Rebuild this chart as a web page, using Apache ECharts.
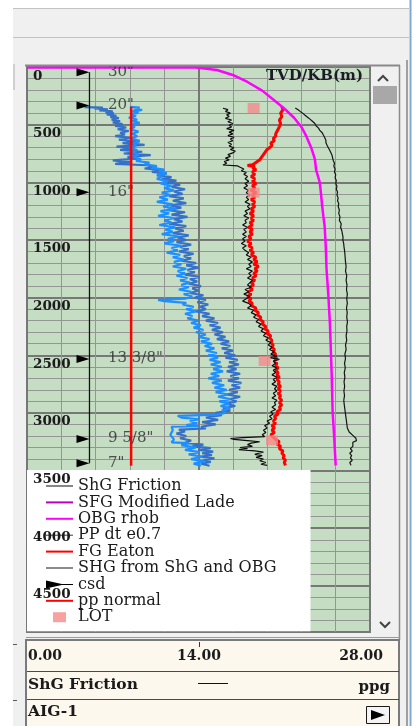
<!DOCTYPE html>
<html>
<head>
<meta charset="utf-8">
<title>AIG-1 pressure track</title>
<script src="https://cdn.jsdelivr.net/npm/echarts@6/dist/echarts.min.js"></script>
<style>
  html, body { margin: 0; padding: 0; background: #ffffff; }
  #chart { width: 414px; height: 726px; }
</style>
</head>
<body>
<div id="chart"></div>
<script>
// Well AIG-1: pressure gradients (ppg) against true vertical depth below KB (m)

const depthTicks = [0, 500, 1000, 1500, 2000, 2500, 3000, 3500, 4000, 4500];
const headerTicks = [0, 14, 28];

// casing shoes
const casingSizes = ['30"', '20"', '16"', '13 3/8"', '9 5/8"', '7"'];
const casingDepths = [46, 333, 1087, 2532, 3227, 3437];
const casingPpg = 5.1;

// [ppg, depth m]
const ppNormal = [[8.5, 344], [8.5, 3458]];

const lot = [[18.5, 355], [18.5, 1090], [19.4, 2550], [20.0, 3238]];

const ppDtRaw = [
  [4.7,348],[6.2,352],[5.5,360],[6.6,368],[5.9,376],[7.0,384],[6.4,392],[7.1,402],[6.5,412],[7.3,422],
  [6.8,432],[7.5,444],[6.9,456],[7.6,468],[7.0,480],[7.8,495],[7.2,510],[8.1,525],[7.4,540],[8.3,555],
  [7.6,570],[8.0,585],[7.2,600],[8.4,615],[7.5,630],[9.2,645],[7.8,660],[9.6,675],[7.3,690],[8.8,705],
  [7.6,720],[9.4,735],[7.9,750],[10.1,765],[8.2,780],[9.0,795],[7.0,810],[8.4,825],[7.2,840],[9.8,852],
  [10.4,865],[9.6,880],[10.9,895],[10.2,910],[11.4,925],[10.6,940],[11.8,955],[11.0,970],[12.2,985],[11.4,1000],
  [12.5,1020],[11.8,1040],[12.9,1060],[12.0,1080],[12.7,1100],[11.6,1120],[12.8,1140],[11.9,1160],[13.0,1180],[11.7,1200],
  [12.6,1220],[11.4,1240],[12.9,1260],[11.8,1280],[13.1,1300],[12.0,1320],[12.7,1340],[11.6,1360],[13.0,1380],[12.1,1400],
  [12.8,1420],[11.9,1440],[13.2,1460],[12.3,1480],[13.0,1500],[12.2,1520],[13.4,1540],[12.5,1560],[13.2,1580],[12.4,1600],
  [13.6,1620],[12.8,1640],[13.4,1660],[12.6,1680],[13.8,1700],[13.0,1720],[14.0,1740],[13.1,1760],[13.7,1780],[12.9,1800],
  [14.1,1820],[13.3,1840],[13.9,1860],[13.2,1880],[14.2,1900],[13.5,1920],[14.0,1940],[13.3,1960],[14.4,1980],[13.7,2000],
  [14.6,2020],[13.9,2040],[14.8,2060],[14.1,2080],[14.6,2100],[13.8,2120],[14.9,2140],[14.3,2160],[15.3,2180],[14.6,2200],
  [15.6,2220],[14.9,2240],[15.8,2260],[15.1,2280],[16.0,2300],[15.3,2320],[16.2,2340],[15.5,2360],[16.5,2380],[15.8,2400],
  [16.6,2420],[15.9,2440],[16.8,2460],[16.1,2480],[17.0,2500],[16.2,2520],[17.2,2540],[16.5,2560],[17.3,2580],[16.4,2600],
  [17.1,2620],[16.3,2640],[17.4,2660],[16.6,2680],[17.3,2700],[16.4,2720],[17.5,2740],[16.7,2760],[17.4,2780],[16.5,2800],
  [17.2,2820],[16.3,2840],[17.4,2860],[16.6,2880],[17.1,2900],[16.2,2920],[17.0,2940],[16.0,2960],[16.6,2980],[15.4,3000],
  [15.9,3020],[14.6,3040],[15.6,3060],[14.3,3080],[15.4,3100],[14.2,3120],[14.6,3135],[12.4,3145],[12.9,3160],[12.2,3180],
  [13.0,3200],[12.5,3220],[13.4,3240],[12.9,3260],[14.4,3275],[13.5,3290],[15.0,3305],[14.0,3320],[15.2,3335],[14.3,3350],
  [15.1,3365],[14.1,3380],[15.3,3395],[14.4,3410],[15.0,3425],[14.2,3440],[14.9,3458]
];

const ppDt = [
  [8.4,345],[9.2,352],[8.7,362],[9.4,372],[8.6,385],[9.1,398],[8.5,410],[8.9,425],[8.3,440],[9.0,455],
  [8.6,470],[9.2,485],[8.5,500],[8.8,520],[8.4,540],[9.1,560],[8.6,580],[9.0,600],[8.5,620],[9.2,640],
  [8.7,660],[8.9,680],[8.4,700],[9.0,720],[8.6,740],[9.1,760],[8.7,780],[9.3,800],[8.9,815],[10.0,830],
  [9.6,845],[10.6,860],[10.2,875],[11.2,890],[10.8,905],[11.4,920],[10.7,935],[11.0,952],[10.6,970],[11.5,990],
  [10.9,1010],[11.8,1030],[11.2,1050],[12.0,1070],[11.0,1090],[11.7,1110],[10.8,1130],[11.5,1150],[10.6,1170],[11.9,1190],
  [11.1,1210],[12.2,1230],[10.9,1250],[11.6,1270],[10.7,1290],[12.0,1310],[11.2,1330],[11.8,1350],[10.8,1370],[12.1,1390],
  [11.3,1410],[11.9,1430],[11.0,1450],[12.4,1470],[11.5,1490],[12.0,1510],[11.2,1530],[12.6,1550],[11.8,1570],[12.3,1590],
  [11.4,1610],[12.5,1630],[11.9,1650],[12.8,1670],[12.0,1690],[12.6,1710],[11.9,1730],[13.0,1750],[12.3,1770],[12.9,1790],
  [12.2,1810],[13.1,1830],[12.5,1850],[13.3,1870],[12.6,1890],[13.2,1910],[12.4,1930],[13.4,1950],[12.8,1970],[13.5,1990],
  [12.9,2010],[10.7,2020],[11.2,2030],[13.0,2045],[12.7,2060],[13.6,2080],[13.0,2100],[13.8,2120],[12.9,2140],[13.5,2160],
  [13.1,2180],[14.0,2200],[13.4,2220],[14.2,2240],[13.6,2260],[14.4,2280],[13.8,2300],[14.6,2320],[14.0,2340],[14.9,2360],
  [14.2,2380],[15.1,2400],[14.5,2420],[15.3,2440],[14.6,2460],[15.5,2480],[14.8,2500],[15.6,2520],[14.9,2540],[15.8,2560],
  [15.0,2580],[15.9,2600],[15.2,2620],[16.0,2640],[15.0,2660],[15.7,2680],[14.8,2700],[15.9,2720],[15.1,2740],[16.1,2760],
  [15.3,2780],[16.3,2800],[15.4,2820],[16.4,2840],[15.6,2860],[16.6,2880],[15.7,2900],[16.5,2920],[15.8,2940],[16.6,2960],
  [15.9,2980],[16.2,3000],[15.5,3015],[12.3,3025],[12.6,3040],[14.1,3055],[13.3,3070],[13.9,3090],[13.0,3105],[14.0,3115],
  [11.8,3120],[11.9,3150],[11.7,3190],[12.0,3230],[11.8,3255],[13.2,3262],[12.6,3280],[13.8,3300],[12.9,3320],[14.1,3340],
  [13.2,3360],[14.3,3380],[13.4,3400],[14.5,3420],[13.6,3440],[14.2,3458]
];

const fgEaton = [
  [20.8,345],[20.9,370],[20.7,400],[20.8,430],[20.6,460],[20.7,490],[20.6,517],[20.5,540],[20.4,560],[20.3,580],
  [20.3,600],[20.1,620],[20.2,640],[19.9,660],[20.0,680],[19.8,700],[19.6,715],[19.6,730],[19.4,745],[19.3,760],
  [19.2,775],[19.1,790],[19.0,805],[18.8,820],[18.6,835],[18.4,848],[18.0,855],[18.6,862],[18.4,875],[18.7,890],
  [18.4,910],[18.6,930],[18.3,950],[18.6,970],[18.4,990],[18.7,1010],[18.4,1030],[18.6,1050],[18.3,1070],[18.7,1090],
  [18.4,1110],[18.6,1130],[18.3,1150],[18.6,1170],[18.4,1190],[18.6,1210],[18.3,1230],[18.5,1250],[18.2,1270],[18.5,1290],
  [18.3,1310],[18.5,1330],[18.2,1350],[18.4,1370],[18.1,1390],[18.4,1410],[18.2,1430],[18.4,1450],[18.1,1470],[18.3,1490],
  [18.0,1510],[18.3,1530],[18.1,1550],[18.4,1570],[18.2,1590],[18.5,1610],[18.3,1630],[18.7,1650],[18.5,1670],[18.8,1690],
  [18.5,1710],[18.9,1730],[18.6,1750],[18.8,1770],[18.5,1790],[18.7,1810],[18.4,1830],[18.6,1850],[18.3,1870],[18.5,1890],
  [18.2,1910],[18.4,1930],[18.1,1950],[18.3,1970],[18.0,1990],[18.3,2010],[18.1,2030],[18.4,2050],[18.3,2070],[18.7,2090],
  [18.6,2110],[18.9,2130],[18.8,2150],[19.1,2170],[19.0,2190],[19.3,2210],[19.2,2230],[19.5,2250],[19.4,2270],[19.7,2290],
  [19.6,2310],[19.9,2330],[19.8,2350],[20.0,2370],[19.9,2390],[20.1,2410],[20.0,2430],[20.2,2450],[20.1,2470],[20.3,2490],
  [20.2,2510],[20.4,2530],[20.2,2550],[20.4,2570],[20.3,2590],[20.5,2610],[20.3,2630],[20.5,2650],[20.4,2670],[20.6,2690],
  [20.4,2710],[20.6,2730],[20.5,2750],[20.7,2770],[20.5,2790],[20.7,2810],[20.5,2830],[20.7,2850],[20.6,2870],[20.8,2890],
  [20.6,2910],[20.8,2930],[20.6,2950],[20.7,2970],[20.4,2990],[20.5,3010],[20.2,3030],[20.3,3050],[20.1,3070],[20.3,3090],
  [20.0,3110],[20.2,3130],[20.0,3150],[20.2,3170],[19.9,3190],[20.1,3210],[20.3,3230],[20.6,3250],[20.4,3270],[20.7,3290],
  [20.6,3310],[20.9,3330],[20.8,3350],[21.0,3370],[20.9,3390],[21.1,3410],[21.0,3430],[21.1,3455]
];

const shgFriction = [
  [16.0,358],[16.4,370],[16.2,385],[16.6,400],[16.3,415],[16.5,430],[16.2,445],[16.7,460],[16.4,475],[16.8,490],
  [16.5,505],[16.7,520],[16.3,535],[16.9,550],[16.5,565],[16.8,580],[16.4,595],[16.9,610],[16.6,625],[16.8,640],
  [16.4,655],[16.7,670],[16.5,685],[16.9,700],[16.6,715],[17.0,730],[16.8,745],[16.4,760],[16.6,775],[16.2,790],
  [16.5,805],[16.1,820],[16.3,835],[16.0,850],[17.2,858],[17.4,870],[17.7,885],[17.5,900],[17.9,915],[17.7,930],
  [18.0,950],[17.8,970],[18.1,990],[17.8,1010],[18.0,1030],[17.7,1050],[18.1,1070],[17.9,1090],[18.2,1110],[17.9,1130],
  [18.1,1150],[17.8,1170],[18.2,1190],[18.0,1210],[18.2,1230],[17.8,1250],[18.0,1270],[17.7,1290],[18.1,1310],[17.8,1330],
  [17.9,1350],[17.6,1370],[18.0,1390],[17.7,1410],[17.9,1430],[17.6,1450],[17.9,1470],[17.6,1490],[17.8,1510],[17.5,1530],
  [17.9,1550],[17.6,1570],[17.8,1590],[18.1,1610],[17.9,1630],[18.3,1650],[18.0,1670],[18.4,1690],[18.1,1710],[18.3,1730],
  [17.9,1750],[18.4,1770],[18.1,1790],[18.3,1810],[18.0,1830],[18.4,1850],[18.2,1870],[18.0,1890],[18.3,1910],[17.8,1930],
  [18.1,1950],[17.7,1970],[18.2,1990],[17.9,2010],[17.6,2030],[18.1,2050],[18.3,2070],[18.0,2090],[18.5,2110],[18.3,2130],
  [18.7,2150],[18.5,2170],[18.9,2190],[18.7,2210],[19.1,2230],[18.9,2250],[19.3,2270],[19.1,2290],[19.5,2310],[19.3,2330],
  [19.7,2350],[19.5,2370],[19.9,2390],[19.7,2410],[20.0,2430],[19.8,2450],[20.2,2470],[19.9,2490],[20.4,2510],[19.8,2520],
  [20.6,2535],[20.1,2550],[20.3,2570],[20.0,2590],[20.4,2610],[20.1,2630],[20.3,2650],[20.0,2670],[20.4,2690],[20.1,2710],
  [20.3,2730],[20.0,2750],[20.4,2770],[20.2,2790],[20.4,2810],[20.1,2830],[20.3,2850],[20.0,2870],[20.4,2890],[20.2,2910],
  [20.3,2930],[20.0,2950],[20.3,2970],[19.9,2990],[20.1,3010],[19.8,3030],[20.0,3050],[19.6,3070],[19.8,3090],[19.4,3110],
  [19.6,3130],[19.3,3150],[19.5,3170],[19.2,3190],[19.4,3205],[17.6,3215],[16.6,3222],[16.9,3230],[18.0,3240],[19.0,3250],
  [18.3,3262],[18.0,3275],[18.4,3290],[17.4,3300],[18.0,3310],[17.3,3318],[18.6,3330],[19.3,3340],[18.9,3350],[18.6,3360],
  [19.2,3370],[18.7,3385],[19.3,3400],[19.0,3415],[19.5,3430],[19.1,3445],[19.6,3455]
];

const sfgModifiedLade = [];

const obgRhob = [
  [0,5],[13.8,5],[15.5,26],[16.8,69],[18.0,130],[19.2,205],[20.2,290],[21.0,360],[21.8,440],[22.4,520],
  [22.8,600],[23.2,700],[23.5,800],[23.6,892],[23.9,1000],[24.0,1100],[24.1,1210],[24.2,1300],[24.3,1383],[24.35,1480],
  [24.4,1584],[24.45,1750],[24.6,1760],[24.6,1980],[24.73,1990],[24.73,2230],[24.87,2240],[24.87,2660],[24.95,2670],[24.95,2990],
  [25.05,3000],[25.05,3160],[25.15,3170],[25.2,3455]
];

const shgFromShgObg = [
  [21.9,355],[22.1,368],[22.3,385],[22.5,400],[22.7,418],[22.9,435],[23.1,452],[23.3,470],[23.5,490],[23.6,510],
  [23.8,530],[23.9,550],[24.1,570],[24.2,592],[24.3,612],[24.4,635],[24.4,655],[24.5,680],[24.6,700],[24.7,720],
  [24.8,742],[24.9,765],[24.95,790],[25.0,810],[25.1,835],[25.05,860],[25.15,885],[25.1,910],[25.2,935],[25.15,960],
  [25.25,985],[25.2,1010],[25.3,1035],[25.25,1060],[25.35,1085],[25.3,1110],[25.4,1135],[25.35,1160],[25.45,1185],[25.4,1210],
  [25.5,1240],[25.45,1270],[25.55,1300],[25.5,1330],[25.65,1360],[25.6,1390],[25.7,1420],[25.75,1450],[25.8,1475],[25.78,1500],
  [25.85,1530],[25.88,1560],[25.92,1590],[25.95,1620],[25.97,1650],[26.0,1690],[26.05,1730],[26.0,1770],[26.1,1810],[26.05,1850],
  [26.12,1890],[26.08,1930],[26.15,1970],[26.1,2010],[26.15,2050],[26.08,2090],[26.14,2130],[26.1,2170],[26.16,2210],[26.1,2250],
  [26.12,2290],[26.05,2330],[26.1,2370],[26.0,2410],[26.05,2450],[25.95,2490],[26.0,2530],[25.92,2570],[25.98,2610],[25.9,2650],
  [25.95,2690],[25.88,2730],[25.93,2770],[25.87,2810],[25.92,2850],[25.86,2890],[25.9,2930],[25.95,2970],[26.0,3010],[26.05,3050],
  [26.1,3090],[26.15,3130],[26.3,3165],[26.6,3195],[26.85,3220],[26.9,3240],[26.6,3255],[26.45,3270],[26.6,3290],[26.4,3310],
  [26.55,3330],[26.35,3350],[26.5,3370],[26.4,3390],[26.55,3410],[26.35,3430],[26.45,3455]
];

const serif = 'DejaVu Serif';
const ink = '#1b1b1b';

// legend glyphs: an invisible 27x14 frame (the two moveTo points) holding the visible shape
const iconThin = 'path://M0 0M27 14M0 6.5H27V7.5H0Z';
const iconMid = 'path://M0 0M27 14M0 6H27V8H0Z';
const iconCasing = 'path://M0 0M27 14M0 6.5H27V7.5H0ZM0 3L18 7L0 11Z';
const iconSquare = 'path://M0 0M27 14M7 2H20V12H7Z';

function lineSeries(name, data, color, width, extra) {
  return Object.assign({
    name: name,
    type: 'line',
    data: data,
    symbol: 'none',
    lineStyle: { color: color, width: width },
    itemStyle: { color: color },
    silent: true,
    z: 2
  }, extra || {});
}

function hiddenValueAxis(interval, lineColor, lineWidth) {
  return {
    type: 'value', inverse: true, min: 0, max: 4900, interval: interval, position: 'left',
    axisLine: { show: false }, axisTick: { show: false }, axisLabel: { show: false },
    splitLine: { show: true, lineStyle: { color: lineColor, width: lineWidth } }
  };
}

const chart = echarts.init(document.getElementById('chart'), null, { renderer: 'canvas' });

const option = {
  animation: false,
  backgroundColor: '#ffffff',
  title: {
    text: 'TVD/KB(m)',
    right: 51,
    top: 69,
    padding: 0,
    z: 8,
    textStyle: { fontFamily: serif, fontWeight: 'bold', fontSize: 15, color: '#1c1c28' }
  },
  grid: {
    left: 27, right: 44, top: 67, bottom: 94,
    show: true,
    backgroundColor: '#c5ddc3',
    borderColor: '#7a7a7a',
    borderWidth: 2,
    containLabel: false,
    outerBoundsMode: 'none'
  },
  xAxis: [
    {
      type: 'value', min: 0, max: 28, interval: 2.8, position: 'top',
      axisLine: { show: false }, axisTick: { show: false }, axisLabel: { show: false },
      splitLine: { show: true, lineStyle: { color: '#959595', width: 1 } }
    },
    {
      type: 'value', min: 0, max: 28, interval: 14, position: 'top',
      axisLine: { show: false }, axisTick: { show: false }, axisLabel: { show: false },
      splitLine: { show: true, lineStyle: { color: '#777777', width: 2 } }
    }
  ],
  yAxis: [
    hiddenValueAxis(100, '#959595', 1),
    hiddenValueAxis(500, '#777777', 2),
    {
      // depth labels, kept above the legend box
      type: 'value', inverse: true, min: 0, max: 4900, interval: 500, z: 10, position: 'left', offset: 0,
      axisLine: { show: false }, axisTick: { show: false }, splitLine: { show: false },
      axisLabel: {
        show: true, inside: true, margin: 6,
        align: 'left', verticalAlign: 'top', padding: [2, 0, 0, 0],
        fontFamily: serif, fontWeight: 'bold', fontSize: 13.5, color: ink,
        formatter: function (v) { return depthTicks.indexOf(v) >= 0 ? String(v) : ''; }
      }
    }
  ],
  legend: {
    orient: 'vertical',
    left: 27, top: 470,
    padding: [8, 34, 6, 19],
    itemGap: 0.4,
    itemWidth: 27,
    itemHeight: 14,
    backgroundColor: '#ffffff',
    selectedMode: false,
    textStyle: { fontFamily: serif, fontSize: 16, lineHeight: 16, color: ink },
    data: [
      { name: 'ShG Friction', icon: iconThin },
      { name: 'SFG Modified Lade', icon: iconMid },
      { name: 'OBG rhob', icon: iconMid },
      { name: 'PP dt e0.7', icon: iconThin, itemStyle: { color: '#3a3a3a' } },
      { name: 'FG Eaton', icon: iconMid },
      { name: 'SHG from ShG and OBG', icon: iconThin },
      { name: 'csd', icon: iconCasing },
      { name: 'pp normal', icon: iconMid },
      { name: 'LOT', icon: iconSquare }
    ]
  },
  series: [
    lineSeries('PP dt', ppDtRaw, '#3571c9', 2.2),
    lineSeries('PP dt e0.7', ppDt, '#1e8fff', 2.2),
    lineSeries('pp normal', ppNormal, '#ff0000', 2.5),
    lineSeries('csd', casingDepths.map(function (d) { return [casingPpg, d]; }), '#111111', 1.3, {
      symbol: 'path://M0 0L13 4L0 8Z',
      symbolSize: [13, 8],
      symbolOffset: [-6.5, 0],
      showSymbol: true,
      itemStyle: { color: '#000000' }
    }),
    {
      name: 'csd',
      type: 'scatter',
      silent: true,
      symbolSize: 1,
      itemStyle: { color: 'transparent' },
      data: casingDepths.map(function (d, i) { return { value: [casingPpg, d], name: casingSizes[i] }; }),
      label: {
        show: true, position: [19, 0], align: 'left', verticalAlign: 'middle',
        formatter: function (p) { return p.name; },
        fontFamily: serif, fontSize: 15, color: '#2b2b2b'
      },
      z: 3
    },
    {
      name: 'LOT',
      type: 'scatter',
      silent: true,
      symbol: 'rect',
      symbolSize: [12, 10],
      itemStyle: { color: '#f58a8a' },
      data: lot,
      z: 2
    },
    lineSeries('FG Eaton', fgEaton, '#ff0000', 3),
    lineSeries('ShG Friction', shgFriction, '#0d0d0d', 1.2),
    lineSeries('SFG Modified Lade', sfgModifiedLade, '#c000c0', 2),
    lineSeries('OBG rhob', obgRhob, '#ff00ff', 2.5),
    lineSeries('SHG from ShG and OBG', shgFromShgObg, '#141414', 1.2)
  ],
  graphic: {
    elements: [
      // window chrome
      { type: 'rect', z: -30, silent: true, shape: { x: 13, y: 8, width: 396, height: 718 }, style: { fill: '#f0f0f0' } },
      { type: 'line', z: -29, silent: true, shape: { x1: 13, y1: 8.5, x2: 409, y2: 8.5 }, style: { stroke: '#c2c2c2', lineWidth: 1 } },
      { type: 'line', z: -29, silent: true, shape: { x1: 13, y1: 37.5, x2: 409, y2: 37.5 }, style: { stroke: '#c2c2c2', lineWidth: 1 } },
      { type: 'rect', z: -29, silent: true, shape: { x: 13, y: 64, width: 2, height: 26 }, style: { fill: '#cfcfcf' } },
      { type: 'line', z: -29, silent: true, shape: { x1: 13, y1: 644.5, x2: 17, y2: 644.5 }, style: { stroke: '#5a5a5a', lineWidth: 1 } },
      { type: 'line', z: -29, silent: true, shape: { x1: 13, y1: 700.5, x2: 17, y2: 700.5 }, style: { stroke: '#5a5a5a', lineWidth: 1 } },
      { type: 'line', z: -29, silent: true, shape: { x1: 407, y1: 60, x2: 407, y2: 726 }, style: { stroke: '#a0a0a0', lineWidth: 2 } },
      { type: 'line', z: -29, silent: true, shape: { x1: 410.5, y1: 0, x2: 410.5, y2: 726 }, style: { stroke: '#7ea8d8', lineWidth: 2 } },
      // frame around track and scroll bar
      { type: 'line', z: 5, silent: true, shape: { x1: 25, y1: 65.5, x2: 400, y2: 65.5 }, style: { stroke: '#8a8a8a', lineWidth: 2 } },
      { type: 'line', z: 5, silent: true, shape: { x1: 399.5, y1: 65, x2: 399.5, y2: 640 }, style: { stroke: '#8a8a8a', lineWidth: 1.5 } },
      { type: 'line', z: 5, silent: true, shape: { x1: 26, y1: 637.5, x2: 400, y2: 637.5 }, style: { stroke: '#9a9a9a', lineWidth: 1 } },
      // scroll bar
      { type: 'polyline', z: 5, silent: true, shape: { points: [[378, 81], [383, 76], [388, 81]] }, style: { stroke: '#444444', lineWidth: 2, fill: null } },
      { type: 'rect', z: 5, silent: true, shape: { x: 373, y: 86, width: 24, height: 18 }, style: { fill: '#a8a8a8' } },
      { type: 'polyline', z: 5, silent: true, shape: { points: [[380, 622], [385, 627], [390, 622]] }, style: { stroke: '#444444', lineWidth: 2, fill: null } },
      // scale header
      { type: 'rect', z: 5, silent: true, shape: { x: 26, y: 640, width: 373, height: 90 }, style: { fill: '#fdf8ee', stroke: '#7a7a7a', lineWidth: 2 } },
      { type: 'line', z: 6, silent: true, shape: { x1: 27, y1: 671.5, x2: 399, y2: 671.5 }, style: { stroke: '#4a4a4a', lineWidth: 1 } },
      { type: 'line', z: 6, silent: true, shape: { x1: 27, y1: 699.5, x2: 399, y2: 699.5 }, style: { stroke: '#4a4a4a', lineWidth: 1 } },
      { type: 'line', z: 6, silent: true, shape: { x1: 199.5, y1: 642, x2: 199.5, y2: 647 }, style: { stroke: '#333333', lineWidth: 1 } },
      { type: 'text', z: 6, silent: true, x: 28, y: 656, style: { text: headerTicks[0].toFixed(2), font: 'bold 14px "DejaVu Serif"', fill: ink, align: 'left', verticalAlign: 'middle' } },
      { type: 'text', z: 6, silent: true, x: 199, y: 656, style: { text: headerTicks[1].toFixed(2), font: 'bold 14px "DejaVu Serif"', fill: ink, align: 'center', verticalAlign: 'middle' } },
      { type: 'text', z: 6, silent: true, x: 383, y: 656, style: { text: headerTicks[2].toFixed(2), font: 'bold 14px "DejaVu Serif"', fill: ink, align: 'right', verticalAlign: 'middle' } },
      { type: 'text', z: 6, silent: true, x: 28, y: 685, style: { text: 'ShG Friction', font: 'bold 15.5px "DejaVu Serif"', fill: ink, align: 'left', verticalAlign: 'middle' } },
      { type: 'line', z: 6, silent: true, shape: { x1: 198, y1: 683.5, x2: 228, y2: 683.5 }, style: { stroke: '#111111', lineWidth: 1 } },
      { type: 'text', z: 6, silent: true, x: 390, y: 687, style: { text: 'ppg', font: 'bold 15px "DejaVu Serif"', fill: ink, align: 'right', verticalAlign: 'middle' } },
      { type: 'text', z: 6, silent: true, x: 28, y: 712, style: { text: 'AIG-1', font: 'bold 15.5px "DejaVu Serif"', fill: ink, align: 'left', verticalAlign: 'middle' } },
      { type: 'rect', z: 6, silent: true, shape: { x: 366.5, y: 706.5, width: 23, height: 17 }, style: { fill: '#f4f4f4', stroke: '#1a1a1a', lineWidth: 1 } },
      { type: 'polygon', z: 7, silent: true, shape: { points: [[371, 710], [385, 715], [371, 720]] }, style: { fill: '#000000' } }
    ]
  }
};

chart.setOption(option);
</script>
</body>
</html>
